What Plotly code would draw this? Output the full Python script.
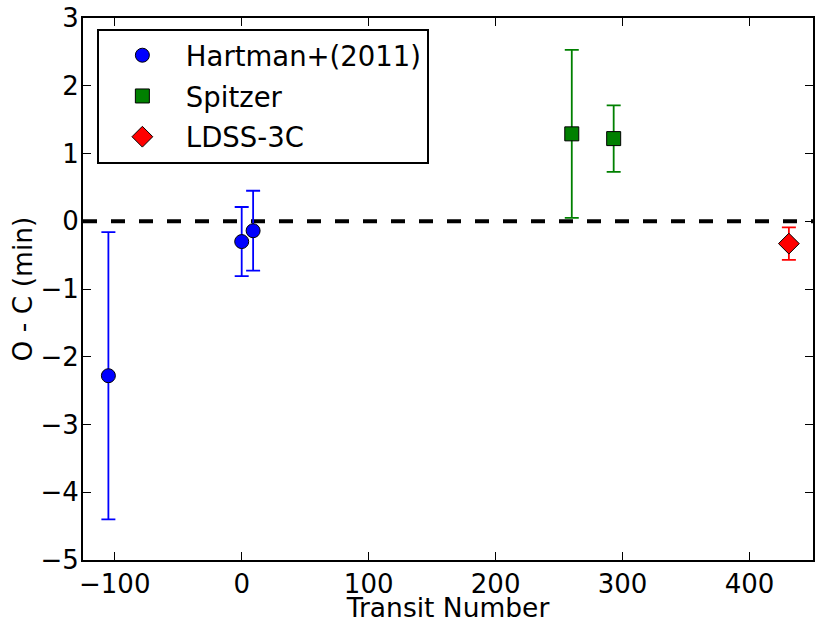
import plotly.graph_objects as go

# --- transit timing data ---
hartman_epoch = [-105, 0, 9]
hartman_oc = [-2.28, -0.30, -0.14]
hartman_err = [2.12, 0.51, 0.59]

spitzer_epoch = [260, 293]
spitzer_oc = [1.29, 1.22]
spitzer_err = [1.24, 0.49]

ldss_epoch = [431]
ldss_oc = [-0.33]
ldss_err = [0.24]

x_ticks = [-100, 0, 100, 200, 300, 400]
y_ticks = [-5, -4, -3, -2, -1, 0, 1, 2, 3]

FONT = "DejaVu Sans"


def series(x, y, err, name, color, symbol, size):
    return go.Scatter(
        x=x, y=y, mode="markers", name=name,
        marker=dict(color=color, symbol=symbol, size=size,
                    line=dict(color="black", width=1)),
        error_y=dict(type="data", array=err, visible=True, color=color,
                     thickness=1.8, width=7),
        legendgroup=name,
    )


fig = go.Figure()
fig.add_trace(series(hartman_epoch, hartman_oc, hartman_err,
                     "Hartman+(2011)", "#0000ff", "circle", 14))
fig.add_trace(series(spitzer_epoch, spitzer_oc, spitzer_err,
                     "Spitzer", "#008000", "square", 14))
fig.add_trace(series(ldss_epoch, ldss_oc, ldss_err,
                     "LDSS-3C", "#ff0000", "diamond", 16))

# zero reference line
fig.add_shape(type="line", xref="paper", x0=0, x1=1, yref="y", y0=0, y1=0,
              line=dict(color="black", width=4, dash="14px,14px"), layer="below")

axis_common = dict(
    showline=True, linecolor="black", linewidth=2, mirror="ticks",
    ticks="inside", ticklen=8, tickwidth=1, tickcolor="black",
    showgrid=False, zeroline=False, automargin=False,
    tickfont=dict(family=FONT, size=26, color="black"),
)

fig.update_layout(
    width=830, height=623,
    margin=dict(l=83, r=17, t=18, b=63),
    plot_bgcolor="white", paper_bgcolor="white",
    font=dict(family=FONT, color="black"),
    xaxis=dict(range=[-125, 450], tickvals=x_ticks,
               title=dict(text="Transit Number", font=dict(family=FONT, size=26.5),
                          standoff=0),
               **axis_common),
    yaxis=dict(range=[-5, 3], tickvals=y_ticks, ticklabelstandoff=-3,
               title=dict(text="O - C (min)", font=dict(family=FONT, size=26.5),
                          standoff=0),
               **axis_common),
    legend=dict(x=0.019, y=0.98, xanchor="left", yanchor="top",
                bordercolor="black", borderwidth=2, bgcolor="white",
                font=dict(family=FONT, size=27.5), itemwidth=77,
                tracegroupgap=2),
)

# drop the page's default body margin so the figure sits at the top-left corner
fig.write_html("out.html", config={"displayModeBar": False},
               post_script="document.body.style.margin='0';")
